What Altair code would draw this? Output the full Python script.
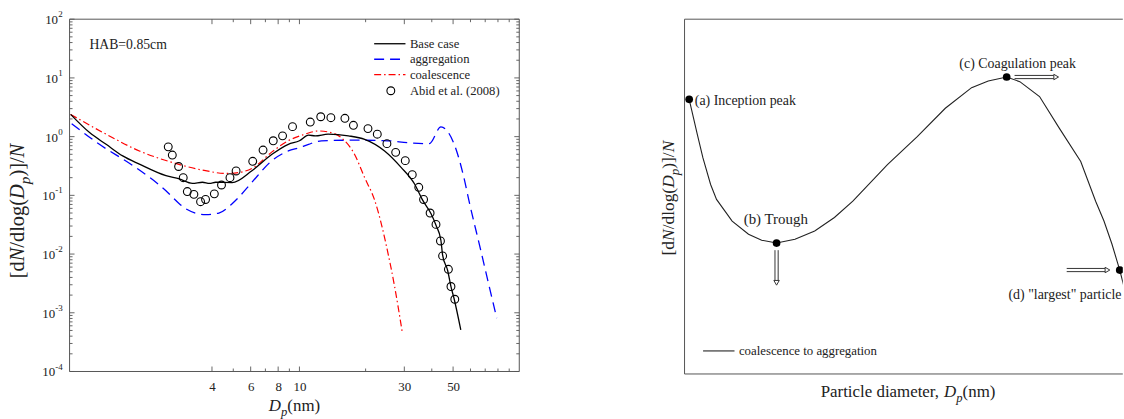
import altair as alt
import pandas as pd

# ---------------- data ----------------
base_x = [0.91, 1.11, 1.32, 1.57, 1.87, 2.47, 2.84, 3.26, 3.62, 3.9, 4.16, 4.94, 6.08, 7.5, 8.9, 10.0, 11.0, 11.8, 13.5, 16.7, 19.8, 24.4, 29.0, 33.4, 36.4, 39.7, 41.8, 44.0, 44.8, 47.2, 48.9, 50.6, 54.2]
base_y = [2.39, 1.17, 0.74, 0.47, 0.34, 0.216, 0.19, 0.16, 0.167, 0.16, 0.167, 0.165, 0.263, 0.50, 0.74, 0.85, 1.06, 1.03, 1.1, 1.03, 0.9, 0.57, 0.30, 0.156, 0.082, 0.0486, 0.031, 0.0172, 0.0096, 0.0053, 0.0028, 0.0017, 0.00051]

agg_x = [0.92, 1.23, 1.75, 2.47, 2.84, 3.04, 3.74, 4.3, 4.94, 5.3, 6.08, 7.5, 8.9, 10.0, 11.0, 12.6, 17.8, 25.3, 31.0, 39.0, 44.0, 50.6, 56.0, 59.0, 66.8, 73.0, 79.0]
agg_y = [1.66, 0.74, 0.32, 0.12, 0.072, 0.059, 0.047, 0.05, 0.072, 0.093, 0.167, 0.39, 0.57, 0.65, 0.74, 0.85, 0.87, 0.85, 0.79, 0.76, 1.46, 0.74, 0.2, 0.082, 0.0116, 0.0028, 0.00081]

coal_x = [0.91, 1.32, 1.87, 2.64, 3.74, 4.6, 5.3, 6.2, 7.5, 8.9, 10.6, 12.2, 13.5, 15.5, 17.8, 19.8, 22.0, 25.3, 27.1, 29.4]
coal_y = [2.39, 1.1, 0.57, 0.363, 0.263, 0.236, 0.245, 0.3, 0.55, 0.85, 1.1, 1.25, 1.2, 0.96, 0.50, 0.20, 0.082, 0.0102, 0.0028, 0.00045]

abid_x = [2.53, 2.64, 2.82, 2.96, 3.09, 3.31, 3.55, 3.74, 4.1, 4.42, 4.83, 5.15, 6.13, 6.83, 7.6, 8.38, 9.3, 11.2, 12.5, 13.9, 16.1, 17.6, 20.5, 22.6, 25.0, 27.4, 30.3, 32.6, 34.9, 36.7, 39.3, 41.8, 43.8, 44.8, 47.6, 48.9, 50.9]
abid_y = [0.67, 0.485, 0.31, 0.20, 0.116, 0.104, 0.078, 0.085, 0.106, 0.15, 0.20, 0.26, 0.38, 0.59, 0.85, 1.03, 1.48, 1.77, 2.18, 2.1, 2.05, 1.56, 1.37, 1.10, 0.76, 0.54, 0.39, 0.225, 0.137, 0.085, 0.050, 0.032, 0.0167, 0.0093, 0.0055, 0.0028, 0.0017]

series_names = ["Base case", "aggregation", "coalescence", "Abid et al. (2008)"]

x_major = [4, 6, 8, 10, 30, 50]
x_minor = [5, 7, 9, 20, 40, 60, 70, 80, 90]
y_exponents = [-4, -3, -2, -1, 0, 1, 2]

# schematic (right panel), arbitrary units 0-100
sch_x = [1.06, 2.94, 4.2, 5.95, 7.3, 10.86, 14.6, 17.6, 21.0, 25.2, 29.7, 34.2, 38.4, 46.3, 53.1, 59.5, 65.5, 69.3, 73.5, 76.5, 81.0, 85.5, 90.4, 93.8, 95.7, 97.5, 99.3, 100.5, 102.5]
sch_y = [77.4, 67.4, 60.9, 53.4, 49.2, 43.1, 39.4, 37.7, 36.9, 38.0, 40.3, 44.1, 48.7, 59.0, 66.9, 74.9, 80.7, 82.6, 83.7, 82.4, 78.2, 69.3, 59.9, 48.7, 43.1, 36.7, 29.3, 23.5, 15.1]
key_x = [1.06, 21.0, 73.5, 99.3]
key_y = [77.4, 36.9, 83.7, 29.3]
key_labels = ["(a) Inception peak", "(b) Trough", "(c) Coagulation peak", "(d) \"largest\" particle"]
label_x = [2.33, 13.5, 62.7, 99.7]
label_y = [76.8, 43.6, 87.5, 22.3]
harrow_x0 = [75.3, 87.2]
harrow_x1 = [85.5, 97.2]
harrow_y = [83.7, 29.3]
varrow_x = [21.0]
varrow_y0 = [34.9]
varrow_y1 = [24.9]
legend2_text = "coalescence to aggregation"

# ---------------- styling helpers ----------------
FONT = "Liberation Serif, Times New Roman, serif"
TXT = "#222222"
FRAME = "#555555"

W1, H1 = 452.5, 354.5
W2, H2 = 441, 357

EM = {'[': .333, ']': .333, 'd': .5, '/': .278, 'l': .278, 'o': .5, 'g': .5, '(': .333, ')': .333,
      'n': .5, 'm': .778, 'P': .556, 'a': .444, 'r': .333, 't': .278, 'i': .278, 'c': .444,
      'e': .444, ' ': .25, ',': .25, 'N': .667, 'D': .722, 'p': .5}


def seg_width(s, size):
    return sum(EM.get(ch, .5) for ch in s) * size


def total_width(segments, size):
    return sum(seg_width(t, size * 0.75 if sub else size) for t, _, sub in segments)


dummy = pd.DataFrame({"k": [0]})


def rich_text(segments, x0, y0, size, rotated=False):
    layers = []
    off = 0.0
    for text, italic, sub in segments:
        fs = size * 0.75 if sub else size
        shift = size * 0.3 if sub else 0
        if rotated:
            xv, yv, ang = x0 + shift, y0 - off, 270
        else:
            xv, yv, ang = x0 + off, y0 + shift, 0
        layers.append(
            alt.Chart(dummy).mark_text(
                align="left", baseline="alphabetic", angle=ang, font=FONT, fontSize=fs,
                fontStyle="italic" if italic else "normal", color=TXT
            ).encode(x=alt.value(xv), y=alt.value(yv), text=alt.value(text))
        )
        off += seg_width(text, fs)
    return layers


def vrule(x0, x1, y, color=FRAME, width=1.0):
    return alt.Chart(dummy).mark_rule(color=color, strokeWidth=width).encode(
        x=alt.value(x0), x2=alt.value(x1), y=alt.value(y))


def hrule_v(x, y0, y1, color=FRAME, width=1.0):
    return alt.Chart(dummy).mark_rule(color=color, strokeWidth=width).encode(
        x=alt.value(x), y=alt.value(y0), y2=alt.value(y1))


# ---------------- left panel ----------------
xs = alt.Scale(type="log", domain=[0.9, 100])
ys = alt.Scale(type="log", domain=[1e-4, 100])

df_base = pd.DataFrame({"d": base_x, "v": base_y})
df_agg = pd.DataFrame({"d": agg_x, "v": agg_y})
df_coal = pd.DataFrame({"d": coal_x, "v": coal_y})
df_abid = pd.DataFrame({"d": abid_x, "v": abid_y})

xaxis = alt.Axis(values=x_major, ticks=False, domain=False, grid=False, title=None, format="~g",
                 labelFont=FONT, labelFontSize=13, labelColor=TXT, labelPadding=9)

agg_line = alt.Chart(df_agg).mark_line(color="#0000ff", strokeWidth=1.3, strokeDash=[10, 6], interpolate="monotone").encode(
    x=alt.X("d:Q", scale=xs, axis=xaxis), y=alt.Y("v:Q", scale=ys, axis=None))
coal_line = alt.Chart(df_coal).mark_line(color="#ff0000", strokeWidth=1.2, strokeDash=[7, 3, 1.5, 3], interpolate="monotone").encode(
    x=alt.X("d:Q", scale=xs), y=alt.Y("v:Q", scale=ys, axis=None))
base_line = alt.Chart(df_base).mark_line(color="#000000", strokeWidth=1.3, interpolate="monotone").encode(
    x=alt.X("d:Q", scale=xs), y=alt.Y("v:Q", scale=ys, axis=None))
abid_pts = alt.Chart(df_abid).mark_point(shape="circle", filled=False, color="#000000", size=62, strokeWidth=1.1, opacity=1).encode(
    x=alt.X("d:Q", scale=xs), y=alt.Y("v:Q", scale=ys, axis=None))

df_xmaj = pd.DataFrame({"d": x_major})
df_xmin = pd.DataFrame({"d": x_minor})
y_major_vals = [10.0 ** e for e in y_exponents]
y_minor_vals = [m * 10.0 ** e for e in y_exponents[:-1] for m in range(2, 10)]
df_ymaj = pd.DataFrame({"v": y_major_vals})
df_ymin = pd.DataFrame({"v": y_minor_vals})

tick_layers = []
for df, ln in [(df_xmaj, 5), (df_xmin, 3)]:
    tick_layers.append(alt.Chart(df).mark_rule(color=FRAME, strokeWidth=0.9).encode(
        x=alt.X("d:Q", scale=xs), y=alt.value(H1), y2=alt.value(H1 - ln)))
    tick_layers.append(alt.Chart(df).mark_rule(color=FRAME, strokeWidth=0.9).encode(
        x=alt.X("d:Q", scale=xs), y=alt.value(0), y2=alt.value(ln)))
for df, ln in [(df_ymaj, 5), (df_ymin, 3)]:
    tick_layers.append(alt.Chart(df).mark_rule(color=FRAME, strokeWidth=0.9).encode(
        y=alt.Y("v:Q", scale=ys, axis=None), x=alt.value(0), x2=alt.value(ln)))
    tick_layers.append(alt.Chart(df).mark_rule(color=FRAME, strokeWidth=0.9).encode(
        y=alt.Y("v:Q", scale=ys, axis=None), x=alt.value(W1), x2=alt.value(W1 - ln)))

left_frame = [vrule(0, W1, 0), vrule(0, W1, H1), hrule_v(0, 0, H1), hrule_v(W1, 0, H1)]

df_ylab = pd.DataFrame({"v": y_major_vals, "e": [str(e) for e in y_exponents]})
ylab_10 = alt.Chart(df_ylab).transform_calculate(
    xr="-7 - (length(datum.e) > 1 ? 7.5 : 4.6)"
).mark_text(align="right", baseline="middle", font=FONT, fontSize=13, color=TXT, dy=1).encode(
    x=alt.X("xr:Q", scale=None), y=alt.Y("v:Q", scale=ys, axis=None), text=alt.value("10"))
ylab_exp = alt.Chart(df_ylab).mark_text(align="right", baseline="middle", font=FONT, fontSize=9, color=TXT, dy=-5).encode(
    x=alt.value(-7), y=alt.Y("v:Q", scale=ys, axis=None), text="e:N")

leg_x0, leg_x1, leg_tx = 306.5, 338, 342.5
leg_rows = [24.7, 40.3, 55.7, 72.0]
leg_layers = [
    vrule(leg_x0, leg_x1, leg_rows[0], "#000000", 1.3),
    alt.Chart(dummy).mark_rule(color="#0000ff", strokeWidth=1.3, strokeDash=[10, 6]).encode(
        x=alt.value(leg_x0), x2=alt.value(leg_x1), y=alt.value(leg_rows[1])),
    alt.Chart(dummy).mark_rule(color="#ff0000", strokeWidth=1.2, strokeDash=[7, 3, 1.5, 3]).encode(
        x=alt.value(leg_x0), x2=alt.value(leg_x1), y=alt.value(leg_rows[2])),
    alt.Chart(dummy).mark_point(shape="circle", filled=False, color="#000000", size=62, strokeWidth=1.1, opacity=1).encode(
        x=alt.value((leg_x0 + leg_x1) / 2 + 1), y=alt.value(leg_rows[3])),
]
for name, yy in zip(series_names, leg_rows):
    leg_layers.append(alt.Chart(dummy).mark_text(align="left", baseline="middle", font=FONT, fontSize=12.7, color=TXT).encode(
        x=alt.value(leg_tx), y=alt.value(yy), text=alt.value(name)))

hab = alt.Chart(dummy).mark_text(align="left", baseline="middle", font=FONT, fontSize=13.8, color=TXT).encode(
    x=alt.value(20), y=alt.value(25.7), text=alt.value("HAB=0.85cm"))

anchor_left = vrule(-69, -60, -16.5, "white", 1)

ytitle_segs = [("[d", False, False), ("N", True, False), ("/dlog(", False, False), ("D", True, False),
               ("p", True, True), (")]/", False, False), ("N", True, False)]
LYT = 20.5
left_ytitle = rich_text(ytitle_segs, -45.5, (210 - 17) + total_width(ytitle_segs, LYT) / 2, LYT, rotated=True)
xtitle_segs = [("D", True, False), ("p", True, True), ("(nm)", False, False)]
left_xtitle = rich_text(xtitle_segs, 200.5, H1 + 39.5, 17)

left = alt.layer(
    anchor_left, *tick_layers, *left_frame, agg_line, coal_line, base_line, abid_pts, ylab_10, ylab_exp,
    *leg_layers, hab, *left_ytitle, *left_xtitle
).properties(width=W1, height=H1)

# ---------------- right panel (schematic) ----------------
sx = alt.Scale(domain=[0, 100])
sy = alt.Scale(domain=[0, 100])
df_sch = pd.DataFrame({"u": sch_x, "w": sch_y})
df_key = pd.DataFrame({"u": key_x, "w": key_y})
df_lab = pd.DataFrame({"u": label_x, "w": label_y, "lab": key_labels, "fs": [14, 15, 14, 14]})
df_lab_l = df_lab.iloc[:3]
df_lab_r = df_lab.iloc[3:]

X = lambda f: alt.X(f, scale=sx, axis=None)
Y = lambda f: alt.Y(f, scale=sy, axis=None)

sch_line = alt.Chart(df_sch).mark_line(color="#222222", strokeWidth=1.1, clip=True).encode(x=X("u:Q"), y=Y("w:Q"))
sch_dots = alt.Chart(df_key).mark_circle(color="#000000", size=60, opacity=1, clip=True).encode(x=X("u:Q"), y=Y("w:Q"))

right_frame = [vrule(0, W2, 0), vrule(0, W2, H2), hrule_v(0, 0, H2)]

lab_left = alt.Chart(df_lab_l).mark_text(align="left", baseline="middle", font=FONT, color=TXT).encode(
    x=X("u:Q"), y=Y("w:Q"), text="lab:N", size=alt.Size("fs:Q", scale=None, legend=None))
lab_right = alt.Chart(df_lab_r).mark_text(align="right", baseline="middle", font=FONT, color=TXT).encode(
    x=X("u:Q"), y=Y("w:Q"), text="lab:N", size=alt.Size("fs:Q", scale=None, legend=None))

df_h = pd.DataFrame({"x0": harrow_x0, "x1": harrow_x1, "y": harrow_y})
df_h["xs"] = df_h["x1"] - 1.0
df_h["xh"] = df_h["x1"] - 0.7
df_v = pd.DataFrame({"x": varrow_x, "y0": varrow_y0, "y1": varrow_y1})
df_v["ys"] = df_v["y1"] + 1.2
df_v["yh"] = df_v["y1"] + 0.8

arrow_layers = []
for off in (-1.6, 1.6):
    arrow_layers.append(alt.Chart(df_h).mark_rule(color="#333333", strokeWidth=1, yOffset=off).encode(
        x=X("x0:Q"), x2="xs:Q", y=Y("y:Q")))
    arrow_layers.append(alt.Chart(df_v).mark_rule(color="#333333", strokeWidth=1, xOffset=off).encode(
        x=X("x:Q"), y=Y("y0:Q"), y2="ys:Q"))
arrow_layers.append(alt.Chart(df_h).mark_point(shape="triangle-right", filled=True, fill="white", stroke="#333333",
                                               strokeWidth=1, size=30, opacity=1).encode(x=X("xh:Q"), y=Y("y:Q")))
arrow_layers.append(alt.Chart(df_v).mark_point(shape="triangle-down", filled=True, fill="white", stroke="#333333",
                                               strokeWidth=1, size=30, opacity=1).encode(x=X("x:Q"), y=Y("yh:Q")))

df_leg2 = pd.DataFrame({"x0": [4.23], "x1": [11.4], "xt": [12.4], "y": [6.5], "t": [legend2_text]})
leg2 = [
    alt.Chart(df_leg2).mark_rule(color="#444444", strokeWidth=1.3).encode(x=X("x0:Q"), x2="x1:Q", y=Y("y:Q")),
    alt.Chart(df_leg2).mark_text(align="left", baseline="middle", font=FONT, fontSize=12.9, color=TXT).encode(
        x=X("xt:Q"), y=Y("y:Q"), text="t:N"),
]

anchor_right = vrule(-45, -40.5, -16.5, "white", 1)

RYT = 17.5
right_ytitle = rich_text(ytitle_segs, -11, (197 - 17) + total_width(ytitle_segs, RYT) / 2, RYT, rotated=True)
rxt_segs = [("Particle diameter, ", False, False), ("D", True, False), ("p", True, True), ("(nm)", False, False)]
right_xtitle = rich_text(rxt_segs, 137, H2 + 22.7, 17)

right = alt.layer(
    anchor_right, *right_frame, sch_line, *arrow_layers, sch_dots, lab_left, lab_right, *leg2, *right_ytitle, *right_xtitle
).properties(width=W2, height=H2)

gap = (682.3 - 69.5) - (W1 + 0.5) - 41
chart = alt.hconcat(left, right, spacing=gap).properties(
    padding={"left": 0, "top": 0, "right": 0, "bottom": 0}
).configure_view(stroke="transparent")

chart.save("out.html", embed_options={"renderer": "svg", "actions": False})
